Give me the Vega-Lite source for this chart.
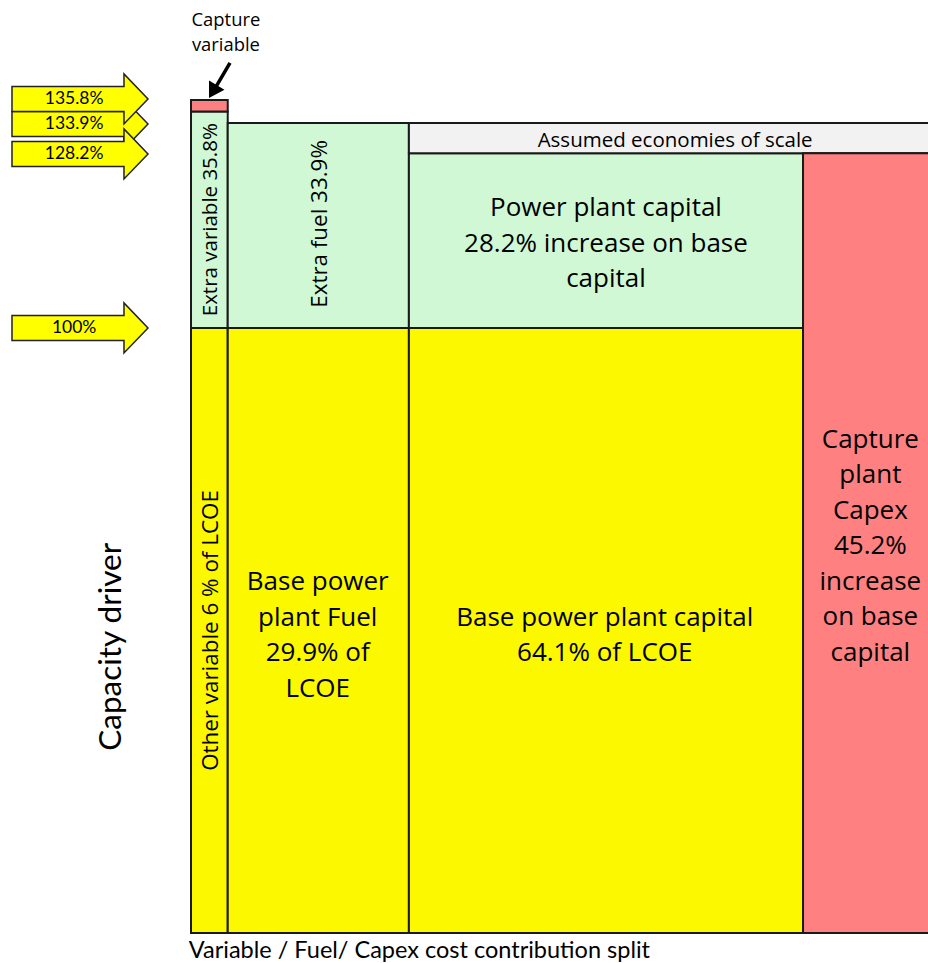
{
  "$schema": "https://vega.github.io/schema/vega-lite/v6.json",
  "width": 928,
  "height": 963,
  "autosize": {"type": "none"},
  "padding": 0,
  "background": "white",
  "config": {"view": {"stroke": null}, "text": {"font": "Open Sans", "color": "#000"}},
  "datasets": {
    "cells": [
      {"part": "Other variable", "kind": "base", "x0": 0, "x1": 6, "y0": 0, "y1": 100},
      {"part": "Base power plant fuel", "kind": "base", "x0": 6, "x1": 35.6, "y0": 0, "y1": 100},
      {"part": "Base power plant capital", "kind": "base", "x0": 35.6, "x1": 100, "y0": 0, "y1": 100},
      {"part": "Extra variable", "kind": "extra", "x0": 0, "x1": 6, "y0": 100, "y1": 135.8},
      {"part": "Extra fuel", "kind": "extra", "x0": 6, "x1": 35.6, "y0": 100, "y1": 133.9},
      {"part": "Power plant capital increase", "kind": "extra", "x0": 35.6, "x1": 100, "y0": 100, "y1": 128.9},
      {"part": "Assumed economies of scale", "kind": "scale", "x0": 35.6, "x1": 129, "y0": 128.9, "y1": 133.9},
      {"part": "Capture variable", "kind": "capture", "x0": 0, "x1": 6, "y0": 135.8, "y1": 137.7},
      {"part": "Capture plant Capex", "kind": "capture", "x0": 100, "x1": 129, "y0": 0, "y1": 128.9}
    ],
    "labels": [
      {"text": "Base power\nplant Fuel\n29.9% of\nLCOE", "x": 20.7, "y": 58.0},
      {"text": "Base power plant capital\n64.1% of LCOE", "x": 67.6, "y": 52.1},
      {"text": "Power plant capital\n28.2% increase on base\ncapital", "x": 67.8, "y": 119.8},
      {"text": "Capture\nplant\nCapex\n45.2%\nincrease\non base\ncapital", "x": 111.0, "y": 81.5}
    ],
    "vlabels": [
      {"text": "Extra variable 35.8%", "x": 3.2, "y": 117.9, "group": "narrow"},
      {"text": "Extra fuel 33.9%", "x": 21.0, "y": 117.2, "group": "wide"},
      {"text": "Other variable 6 % of LCOE", "x": 3.3, "y": 50.0, "group": "wide"}
    ],
    "arrows": [
      {"level": "133.9%", "y": 133.7},
      {"level": "135.8%", "y": 137.85},
      {"level": "128.2%", "y": 128.76},
      {"level": "100%", "y": 100}
    ],
    "pointer": [
      {"x": 6.37, "y": 143.8, "x2": 3.76, "y2": 139.3}
    ],
    "notes": [
      {"text": "Assumed economies of scale", "x": 79.1, "y": 130.9, "kind": "box"},
      {"text": "Capture\nvariable", "x": 5.7, "y": 150.9, "kind": "callout"}
    ]
  },
  "layer": [
    {
      "data": {"name": "cells"},
      "mark": {"type": "rect", "stroke": "#1a1a1a", "strokeWidth": 2, "clip": true},
      "encoding": {
        "x": {"field": "x0", "type": "quantitative", "scale": {"domain": [-31.21, 120.42], "nice": false, "zero": false}, "axis": null},
        "x2": {"field": "x1"},
        "y": {"field": "y0", "type": "quantitative", "scale": {"domain": [-4.96, 154.21], "nice": false, "zero": false}, "axis": null},
        "y2": {"field": "y1"},
        "color": {"field": "kind", "type": "nominal", "scale": {"domain": ["base", "extra", "scale", "capture"], "range": ["#FBF800", "#D0F8D4", "#F2F2F2", "#FF8080"]}, "legend": null}
      }
    },
    {
      "data": {"name": "labels"},
      "mark": {"type": "text", "fontSize": 26, "lineHeight": 35.5, "lineBreak": "\n", "align": "center", "baseline": "middle"},
      "encoding": {
        "x": {"field": "x", "type": "quantitative"},
        "y": {"field": "y", "type": "quantitative"},
        "text": {"field": "text"}
      }
    },
    {
      "data": {"name": "vlabels"},
      "transform": [{"filter": "datum.group == 'narrow'"}],
      "mark": {"type": "text", "fontSize": 20.5, "angle": 270, "align": "center", "baseline": "middle"},
      "encoding": {
        "x": {"field": "x", "type": "quantitative"},
        "y": {"field": "y", "type": "quantitative"},
        "text": {"field": "text"}
      }
    },
    {
      "data": {"name": "vlabels"},
      "transform": [{"filter": "datum.group == 'wide'"}],
      "mark": {"type": "text", "fontSize": 22.4, "angle": 270, "align": "center", "baseline": "middle"},
      "encoding": {
        "x": {"field": "x", "type": "quantitative"},
        "y": {"field": "y", "type": "quantitative"},
        "text": {"field": "text"}
      }
    },
    {
      "data": {"name": "arrows"},
      "mark": {"type": "point", "shape": "M-1,-0.184L0.647,-0.184L0.647,-0.368L1,0L0.647,0.368L0.647,0.184L-1,0.184Z", "size": 18496, "filled": true, "fill": "#FFFF00", "stroke": "#222", "strokeWidth": 1.5, "opacity": 1},
      "encoding": {
        "x": {"datum": -18.14, "type": "quantitative"},
        "y": {"field": "y", "type": "quantitative"}
      }
    },
    {
      "data": {"name": "arrows"},
      "mark": {"type": "text", "font": "Lato", "fontSize": 17.5, "align": "center", "baseline": "middle"},
      "encoding": {
        "x": {"datum": -19.1, "type": "quantitative"},
        "y": {"field": "y", "type": "quantitative"},
        "text": {"field": "level"}
      }
    },
    {
      "data": {"name": "pointer"},
      "mark": {"type": "rule", "color": "#000", "strokeWidth": 3.5},
      "encoding": {
        "x": {"field": "x", "type": "quantitative"},
        "y": {"field": "y", "type": "quantitative"},
        "x2": {"field": "x2"},
        "y2": {"field": "y2"}
      }
    },
    {
      "data": {"name": "pointer"},
      "mark": {"type": "point", "shape": "M0,0L-0.6,-1L0.6,-1Z", "size": 900, "filled": true, "color": "#000", "opacity": 1, "angle": 31},
      "encoding": {
        "x": {"datum": 2.94, "type": "quantitative"},
        "y": {"datum": 138.0, "type": "quantitative"}
      }
    },
    {
      "data": {"name": "notes"},
      "transform": [{"filter": "datum.kind == 'box'"}],
      "mark": {"type": "text", "fontSize": 20.5, "align": "center", "baseline": "middle"},
      "encoding": {
        "x": {"field": "x", "type": "quantitative"},
        "y": {"field": "y", "type": "quantitative"},
        "text": {"field": "text"}
      }
    },
    {
      "data": {"name": "notes"},
      "transform": [{"filter": "datum.kind == 'callout'"}],
      "mark": {"type": "text", "fontSize": 18.4, "lineHeight": 25, "lineBreak": "\n", "align": "center", "baseline": "middle"},
      "encoding": {
        "x": {"field": "x", "type": "quantitative"},
        "y": {"field": "y", "type": "quantitative"},
        "text": {"field": "text"}
      }
    },
    {
      "data": {"values": [{"title": "Capacity driver", "x": -12.9, "y": 47.3}]},
      "mark": {"type": "text", "font": "Lato", "fontSize": 31.5, "angle": 270, "align": "center", "baseline": "middle"},
      "encoding": {
        "x": {"field": "x", "type": "quantitative"},
        "y": {"field": "y", "type": "quantitative"},
        "text": {"field": "title"}
      }
    },
    {
      "data": {"values": [{"title": "Variable / Fuel/ Capex cost contribution split", "x": -0.35, "y": -2.9}]},
      "mark": {"type": "text", "font": "Lato", "fontSize": 23.5, "align": "left", "baseline": "middle"},
      "encoding": {
        "x": {"field": "x", "type": "quantitative"},
        "y": {"field": "y", "type": "quantitative"},
        "text": {"field": "title"}
      }
    }
  ]
}
